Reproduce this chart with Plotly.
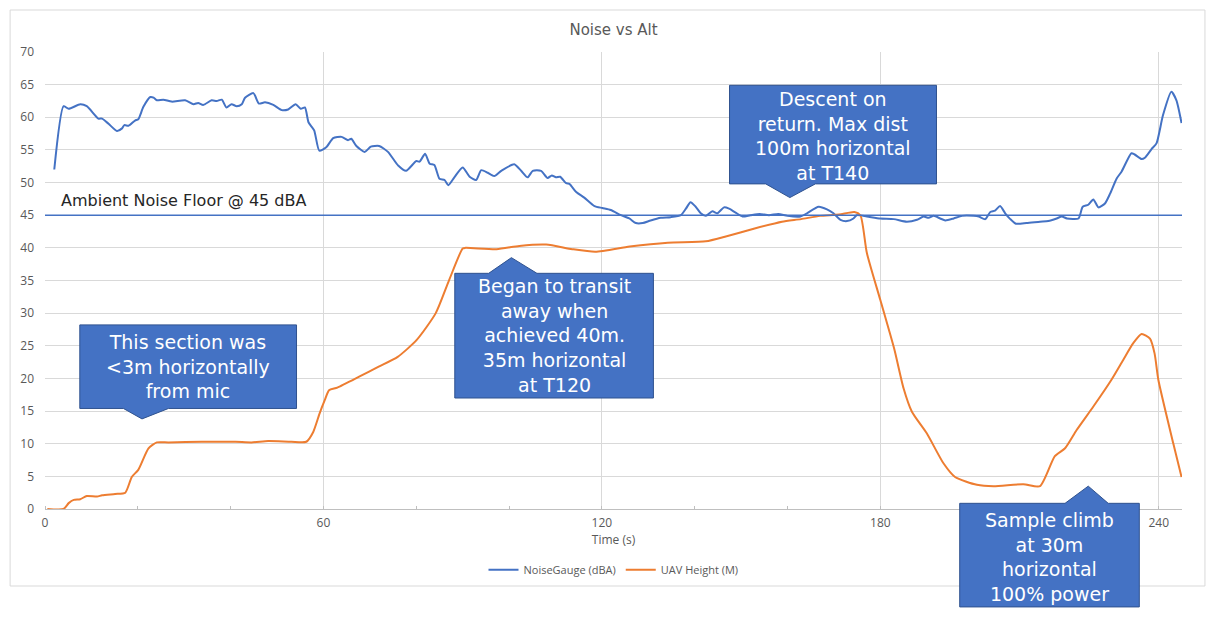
import plotly.graph_objects as go

# noise gauge readings (dBA) against time (s)
noise_t = [2, 4, 5.1, 7.6, 9.0, 11.5, 12.3, 13.7, 15.5, 16.6, 17.1, 18.0, 19.4, 20.1,
           21.2, 22.7, 23.4, 24.1, 25.5, 27.3, 30.2, 32.0, 33.0, 34.1, 35.9, 37.0,
           38.1, 39.1, 40.2, 41.3, 42.4, 43.1, 44.9, 46.1, 47.4, 49.2, 51.0, 52.4,
           54.0, 55.1, 56.0, 56.8, 58.0, 59.1, 60.6, 62.1, 63.9, 65.3, 66.0, 67.1,
           68.9, 70.2, 72.0, 73.9, 76.1, 77.8, 80.0, 80.7, 81.9, 82.9, 83.9, 85.0,
           86.1, 86.9, 88.2, 90.0, 91.5, 92.9, 94.0, 95.4, 96.8, 98.3, 101.1, 102.6,
           104.0, 105.1, 106.9, 108.3, 109.2, 110.1, 111.0, 112.3, 113.0, 114.4,
           116.2, 118.4, 120.1, 121.9, 124.1, 125.9, 127.3, 128.8, 130.5, 132.7,
           134.8, 137.0, 138.1, 139.1, 140.2, 141.3, 142.4, 143.8, 144.9, 146.3,
           147.4, 148.8, 150.3, 152.0, 154, 156, 158, 160, 162.8, 164.2, 166.7,
           168.5, 169.9, 171.4, 172.8, 174.2, 174.9, 177.1, 180.0, 182.9, 185.7,
           187.9, 189.3, 190.4, 191.5, 192.9, 194.0, 195.8, 197.6, 200.1, 201.2,
           202.6, 203.7, 204.7, 205.8, 206.9, 208.0, 209.2, 211.5, 214.4, 216.2,
           218.0, 219.1, 220.2, 222.7, 223.6, 224.8, 225.9, 227.0, 228.4, 229.5,
           230.9, 232.0, 234.1, 234.8, 236.3, 237.0, 238.4, 239.5, 240.9, 242.7,
           243.8, 244.9]
noise_db = [52.0, 61.7, 61.3, 62.0, 61.7, 59.8, 59.8, 59.0, 57.9, 58.3, 58.8, 58.7, 59.5, 59.7,
            61.6, 63.1, 63.0, 62.6, 62.7, 62.4, 62.6, 62.0, 62.2, 61.9, 62.6, 62.5,
            62.7, 61.5, 62.0, 61.7, 62.0, 63.0, 63.7, 62.1, 62.3, 61.9, 61.1, 61.2,
            62.0, 61.3, 61.5, 59.2, 58.0, 54.9, 55.4, 56.8, 57.0, 56.5, 56.7, 55.6,
            54.7, 55.5, 55.6, 54.7, 52.6, 51.8, 53.3, 53.2, 54.4, 52.9, 52.7, 50.6,
            50.4, 49.6, 50.8, 52.3, 50.9, 50.4, 51.9, 51.5, 51.0, 51.8, 52.8, 51.8,
            50.8, 51.8, 51.8, 50.7, 51.1, 50.8, 50.9, 49.9, 49.8, 48.6,
            47.7, 46.4, 46.1, 45.8, 45.0, 44.5, 43.8, 43.8, 44.2, 44.6,
            44.7, 45.0, 46.0, 47.0, 46.3, 45.3, 44.9, 45.6, 45.3, 46.2,
            46.0, 45.4, 44.8, 45.0, 45.2, 45.0, 45.2, 44.9, 44.8, 45.3, 46.3,
            45.9, 45.3, 44.3, 44.1, 44.5, 45.0, 44.8, 44.5, 44.4, 44.0,
            44.3, 44.8, 44.6, 44.9, 44.5, 44.2, 44.5, 44.9, 44.9, 44.8,
            44.4, 45.5, 45.7, 46.4, 45.3, 44.4, 43.7, 43.8, 44.0, 44.1,
            44.5, 44.8, 44.5, 44.5, 46.3, 46.6, 47.4, 46.2, 46.8, 48.3,
            50.6, 51.7, 54.5, 54.3, 53.6, 53.8, 55.1, 56.0, 60.3, 63.9,
            62.6, 59.1]

# UAV height (m) against time (s)
height_t = [0.5, 4.0, 5.1, 6.2, 7.6, 9.0, 11.2, 12.3, 15.1, 17.3, 18.7, 20.1, 22.3, 24.1,
            26.6, 33.8, 41.0, 44.5, 48.1, 53.1, 56.3, 57.8, 59.2, 60.3, 61.2, 63.0,
            67.8, 71.9, 76.0, 80.1, 84.2, 87.1, 90.0, 90.6, 97.3, 102.2, 108.0, 113.6,
            118.6, 126.0, 134.2, 142.4, 146.5, 153.1, 158.8, 162.9, 167.0, 171.1,
            174.4, 175.7, 177.1, 180.0, 183.0, 185.0, 186.8, 190.0, 193.6, 196.1,
            200.8, 204.4, 210.8, 214.4, 217.6, 219.8, 222.3, 225.9, 229.8, 232.3,
            234.5, 236.3, 238.1, 239.1, 239.9, 243.1, 244.9]
height_m = [0, 0, 0.9, 1.4, 1.5, 2.0, 1.9, 2.1, 2.3, 2.5, 4.9, 6.0, 9.3, 10.2,
            10.2, 10.3, 10.3, 10.2, 10.4, 10.3, 10.3, 11.8, 14.7, 16.7, 18.2, 18.6,
            20.3, 21.8, 23.3, 25.9, 30.0, 35.1, 39.9, 40.0, 39.8, 40.3, 40.5, 39.8,
            39.4, 40.2, 40.8, 41.0, 41.7, 43.0, 44.0, 44.4, 44.9, 45.1,
            45.5, 45.0, 39.2, 32.0, 24.5, 18.5, 14.9, 11.6, 7.0, 4.9,
            3.7, 3.5, 3.8, 3.5, 8.1, 9.3, 12.1, 15.7, 19.8, 22.8,
            25.4, 26.8, 26.1, 23.8, 19.8, 10.1, 4.9]

NOISE_FLOOR = 45
X_MAX = 245
Y_MAX = 70
x_ticks = [0, 60, 120, 180, 240]
y_ticks = list(range(0, 75, 5))

BLUE = '#4472C4'
ORANGE = '#ED7D31'
GREY_TXT = '#595959'
GRID = '#d9d9d9'
FONT = 'Open Sans'
WIDE_FONT = 'DejaVu Sans'

# page body has an 8px margin, so the figure is drawn 8px smaller and offset
W, H = 1208, 614


def px(t):
    return t / X_MAX


def py(v):
    return v / Y_MAX


def callout(x0, x1, y0, y1, b0, b1, tip_x, tip_y, up):
    """rectangle callout with a triangular pointer, data units -> paper path"""
    if up:
        pts = [(x0, y0), (x0, y1), (b0, y1), (tip_x, tip_y), (b1, y1), (x1, y1), (x1, y0)]
    else:
        pts = [(x0, y1), (x1, y1), (x1, y0), (b1, y0), (tip_x, tip_y), (b0, y0), (x0, y0)]
    path = 'M ' + ' L '.join(f'{px(a):.5f},{py(b):.5f}' for a, b in pts) + ' Z'
    return dict(type='path', xref='paper', yref='paper', path=path,
                fillcolor=BLUE, line=dict(color='#2F528F', width=1), layer='above')


fig = go.Figure()
fig.add_trace(go.Scatter(x=noise_t, y=noise_db, name='NoiseGauge (dBA)', mode='lines',
                         line=dict(color=BLUE, width=2, shape='spline', smoothing=0.6)))
fig.add_trace(go.Scatter(x=height_t, y=height_m, name='UAV Height (M)', mode='lines',
                         line=dict(color=ORANGE, width=2, shape='spline', smoothing=0.6)))
fig.add_trace(go.Scatter(x=[0, X_MAX], y=[NOISE_FLOOR, NOISE_FLOOR], mode='lines',
                         line=dict(color=BLUE, width=1.5), showlegend=False, hoverinfo='skip'))

shapes = [
    # outer chart border
    dict(type='rect', xref='paper', yref='paper', x0=-0.0307, x1=1.0202, y0=-0.1685, y1=1.0919,
         line=dict(color=GRID, width=1), layer='below'),
    callout(7.5, 54.2, 15.4, 28.2, 16.9, 26.6, 20.9, 13.8, up=False),
    callout(88.3, 131.1, 17.0, 36.1, 95.6, 106.0, 100.5, 38.5, up=True),
    callout(147.5, 192.1, 49.8, 64.9, 155.3, 166.0, 160.5, 47.7, up=False),
    callout(197.1, 235.8, -15.0, 0.87, 219.8, 229.1, 224.8, 3.5, up=True),
]

notes = [
    (30.8, 21.8, 'This section was<br>&lt;3m horizontally<br>from mic'),
    (109.7, 26.6, 'Began to transit<br>away when<br>achieved 40m.<br>35m horizontal<br>at T120'),
    (169.9, 57.2, 'Descent on<br>return. Max dist<br>100m horizontal<br>at T140'),
    (216.4, -7.3, 'Sample climb<br>at 30m<br>horizontal<br>100% power'),
]
annotations = [dict(x=px(x), y=py(y), xref='paper', yref='paper', text=txt, showarrow=False,
                    xanchor='center', yanchor='middle', align='center',
                    font=dict(family=WIDE_FONT, size=19, color='white'))
               for x, y, txt in notes]
annotations.append(dict(x=px(3), y=py(47.3), xref='paper', yref='paper',
                        xanchor='left', yanchor='middle',
                        text='Ambient Noise Floor @ 45 dBA', showarrow=False,
                        font=dict(family=WIDE_FONT, size=16, color='#262626')))

fig.update_layout(
    width=W, height=H,
    margin=dict(l=35, r=34, t=44, b=113),
    paper_bgcolor='white', plot_bgcolor='white',
    title=dict(text='Noise vs Alt', x=0.5, xref='paper', xanchor='center',
               y=1 - 22 / H, yanchor='middle',
               font=dict(family=WIDE_FONT, size=15, color=GREY_TXT)),
    font=dict(family=FONT, size=11, color=GREY_TXT),
    legend=dict(orientation='h', x=0.5, xanchor='center', y=-0.133, yanchor='middle',
                font=dict(size=11, color=GREY_TXT)),
    shapes=shapes,
    annotations=annotations,
    showlegend=True,
)
fig.update_xaxes(range=[0, X_MAX], tickvals=x_ticks, showgrid=True, gridcolor=GRID, gridwidth=1,
                 showline=True, linecolor='#bfbfbf', linewidth=1, zeroline=False,
                 ticks='', ticklabelstandoff=3, tickfont=dict(size=12, color=GREY_TXT),
                 minor=dict(dtick=20, ticks='inside', ticklen=3, tickcolor='#bfbfbf', showgrid=False),
                 title=dict(text='Time (s)', standoff=5, font=dict(size=12, color=GREY_TXT)))
fig.update_yaxes(range=[0, Y_MAX], tickvals=y_ticks, showgrid=True, gridcolor=GRID, gridwidth=1,
                 zeroline=False, showline=False, ticks='', ticklabelstandoff=10,
                 tickfont=dict(size=12, color=GREY_TXT))

fig.write_html('out.html')
